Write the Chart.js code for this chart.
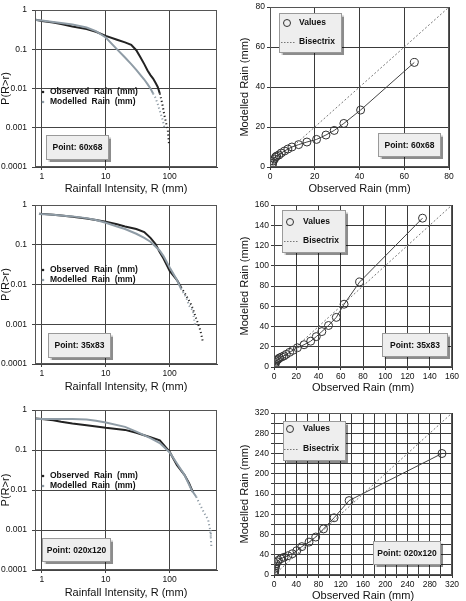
<!DOCTYPE html>
<html>
<head>
<meta charset="utf-8">
<script src="https://cdn.jsdelivr.net/npm/chart.js@4.4.1/dist/chart.umd.min.js"></script>
<style>
  body { margin: 0; background: #fff; width: 466px; height: 601px; position: relative; overflow: hidden; }
  canvas { position: absolute; }
</style>
</head>
<body>
<canvas id="c1"></canvas>
<canvas id="c2"></canvas>
<canvas id="c3"></canvas>
<canvas id="c4"></canvas>
<canvas id="c5"></canvas>
<canvas id="c6"></canvas>
<script>
// ---- exceedance curves, P(R>r) against rainfall intensity R (mm)
// point 60x68
const obsR1 = [0.8, 1, 1.5, 2, 3, 5, 7, 10, 15, 20, 25, 30, 35, 40, 45, 50, 55, 60, 65, 70, 74, 78, 82, 88, 94, 98];
const obsP1 = [0.57, 0.53, 0.48, 0.44, 0.38, 0.33, 0.28, 0.22, 0.175, 0.15, 0.13, 0.095, 0.062, 0.042, 0.029, 0.022, 0.018, 0.014, 0.011, 0.0075, 0.0052, 0.0035, 0.0022, 0.0013, 0.0008, 0.00035];
const modR1 = [0.8, 1, 1.5, 2, 3, 5, 7, 10, 15, 20, 25, 30, 35, 40, 45, 50, 55, 60, 65, 70, 75, 80, 84];
const modP1 = [0.56, 0.54, 0.5, 0.47, 0.43, 0.36, 0.29, 0.2, 0.1, 0.062, 0.042, 0.03, 0.022, 0.017, 0.013, 0.01, 0.0075, 0.0058, 0.004, 0.0027, 0.0019, 0.0013, 0.0009];
// point 35x83
const obsR3 = [0.9, 1.5, 2, 3, 5, 7, 10, 15, 20, 30, 40, 50, 60, 70, 80, 100, 130, 150, 180, 220, 260, 300, 330];
const obsP3 = [0.61, 0.57, 0.55, 0.51, 0.46, 0.42, 0.38, 0.33, 0.29, 0.25, 0.21, 0.15, 0.105, 0.065, 0.045, 0.022, 0.013, 0.0087, 0.0054, 0.003, 0.0014, 0.00072, 0.00037];
const modR3 = [0.9, 1.5, 2, 3, 5, 7, 10, 15, 20, 30, 40, 50, 60, 70, 80, 100, 130, 150, 180, 200, 230, 250];
const modP3 = [0.6, 0.57, 0.55, 0.52, 0.47, 0.42, 0.36, 0.29, 0.25, 0.19, 0.15, 0.12, 0.091, 0.071, 0.052, 0.027, 0.013, 0.0079, 0.0049, 0.003, 0.0022, 0.0009];
// point 020x120
const obsR5 = [0.8, 1, 1.5, 2, 3, 5, 10, 20, 30, 50, 70, 100, 130, 170, 200, 230];
const obsP5 = [0.62, 0.6, 0.56, 0.51, 0.46, 0.42, 0.36, 0.32, 0.27, 0.21, 0.175, 0.09, 0.042, 0.024, 0.015, 0.009];
const modR5 = [0.8, 1, 1.5, 2, 3, 5, 7, 10, 20, 30, 50, 70, 100, 130, 170, 220, 260, 300, 350, 400, 430, 440, 450];
const modP5 = [0.6, 0.6, 0.6, 0.6, 0.6, 0.58, 0.54, 0.49, 0.38, 0.29, 0.2, 0.15, 0.087, 0.046, 0.024, 0.01, 0.0068, 0.0042, 0.0026, 0.0018, 0.001, 0.00068, 0.00035];

// ---- observed vs modelled quantiles (mm)
const qObs2 = [1, 1.2, 1.5, 2, 2.5, 3, 4, 5, 6.5, 8, 9.8, 12.8, 16.5, 20.8, 25, 28.7, 33, 40.5, 64.5];
const qMod2 = [1, 2, 3, 4, 5, 5.5, 6, 7, 8, 9, 10, 11.2, 12.5, 13.8, 16, 18.3, 21.8, 28.5, 52.3];
const qObs4 = [0.8, 1, 1.5, 2, 3, 4, 5, 7, 9, 11, 14, 17, 21, 27, 33, 38, 43, 49, 56, 63, 77, 133.5];
const qMod4 = [1, 3, 4.5, 6, 7, 8, 9, 10, 11, 12.5, 14.5, 16.5, 19, 22, 25.5, 30, 35, 41, 49, 62, 84, 147];
const qObs6 = [0.5, 1, 1.5, 2, 3, 4, 6, 8, 12, 18, 25, 33, 41, 50, 63, 75, 89, 108, 135, 302];
const qMod6 = [1, 4, 8, 13, 18, 22, 26, 29, 32, 35, 38, 42, 48, 56, 65, 75, 91, 113, 147, 240];

const probTicks = [0.0001, 0.001, 0.01, 0.1, 1];
const rainTicks = [1, 10, 100];
const pointNames = ['60x68', '35x83', '020x120'];

const FONT = '"Liberation Sans", Arial, Helvetica, sans-serif';
Chart.defaults.font.family = FONT;
Chart.defaults.color = '#111';

function drawBox(ctx, b) {
  ctx.save();
  ctx.shadowColor = 'rgba(0,0,0,0.45)';
  ctx.shadowOffsetX = 1.5;
  ctx.shadowOffsetY = 1.5;
  ctx.shadowBlur = 1;
  ctx.fillStyle = '#eeeeee';
  ctx.fillRect(b[0], b[1], b[2], b[3]);
  ctx.restore();
  ctx.strokeStyle = '#9a9a9a';
  ctx.lineWidth = 1;
  ctx.strokeRect(b[0] + 0.5, b[1] + 0.5, b[2] - 1, b[3] - 1);
}

// frame, legend and the "Point" label inside each plot
const notes = {
  id: 'notes',
  afterDatasetsDraw(chart, args, o) {
    const ctx = chart.ctx, a = chart.chartArea, ds = chart.data.datasets;
    ctx.save();
    ctx.strokeStyle = '#555';
    ctx.lineWidth = 1;
    ctx.strokeRect(Math.round(a.left) + 0.5, Math.round(a.top) + 0.5,
                   Math.round(a.right - a.left) - 1, Math.round(a.bottom - a.top) - 1);
    ctx.font = 'bold 8.5px ' + FONT;
    ctx.textBaseline = 'middle';
    if (o.legendBox) drawBox(ctx, o.legendBox);
    o.rows.forEach((y, i) => {
      const d = ds[i];
      if (o.kind === 'dots') {
        ctx.fillStyle = d.borderColor;
        ctx.beginPath(); ctx.arc(o.markX, y, 1.3, 0, Math.PI * 2); ctx.fill();
      } else if (i === 0) {
        ctx.strokeStyle = '#333'; ctx.lineWidth = 1;
        ctx.beginPath(); ctx.arc(o.markX, y, 3.5, 0, Math.PI * 2); ctx.stroke();
      } else {
        ctx.strokeStyle = '#777'; ctx.lineWidth = 1; ctx.setLineDash([1.5, 1.5]);
        ctx.beginPath(); ctx.moveTo(o.markX - 6, y + 0.5); ctx.lineTo(o.markX + 8, y + 0.5); ctx.stroke();
        ctx.setLineDash([]);
      }
      ctx.fillStyle = '#111';
      ctx.textAlign = 'left';
      ctx.fillText(d.label, o.textX, y);
    });
    const b = o.pointBox;
    drawBox(ctx, b);
    ctx.fillStyle = '#111';
    ctx.textAlign = 'center';
    ctx.fillText('Point: ' + o.point, b[0] + b[2] / 2, b[1] + b[3] / 2 + 0.5);
    ctx.restore();
  }
};

function place(id, box, area) {
  const cv = document.getElementById(id);
  cv.width = box[2]; cv.height = box[3];
  cv.style.left = box[0] + 'px'; cv.style.top = box[1] + 'px';
  return {
    ctx: cv,
    padding: { left: 0, bottom: 0, top: area[1] - box[1], right: box[0] + box[2] - area[2] },
    yw: area[0] - box[0],
    xh: box[1] + box[3] - area[3]
  };
}

function pts(xs, ys) { return xs.map((x, i) => ({ x: x, y: ys[i] })); }

const tail = c => c.p1.parsed.y < 0.006 ? [1.2, 2.6] : undefined;

function ccdfChart(id, box, area, oR, oP, mR, mP, note) {
  const p = place(id, box, area);
  return new Chart(p.ctx, {
    type: 'scatter',
    data: {
      datasets: [
        { label: 'Observed  Rain  (mm)', data: pts(oR, oP), showLine: true, borderColor: '#222',
          borderWidth: 2, pointRadius: 0, order: 1, segment: { borderDash: tail } },
        { label: 'Modelled  Rain  (mm)', data: pts(mR, mP), showLine: true, borderColor: '#8f9ca6',
          borderWidth: 2, pointRadius: 0, order: 0, segment: { borderDash: tail } }
      ]
    },
    options: {
      responsive: false, animation: false, devicePixelRatio: 1, events: [],
      layout: { padding: p.padding },
      plugins: { legend: { display: false }, tooltip: { enabled: false }, notes: note },
      scales: {
        x: {
          type: 'logarithmic', min: 0.78, max: 550,
          afterBuildTicks: s => { s.ticks = rainTicks.map(v => ({ value: v })); },
          afterFit: s => { s.height = p.xh; },
          ticks: { callback: v => String(v), font: { size: 8.5 }, padding: 2, maxRotation: 0, autoSkip: false },
          grid: { color: '#444', tickColor: '#444', tickLength: 3 },
          border: { color: '#444' },
          title: { display: true, text: 'Rainfall Intensity, R (mm)', font: { size: 11, lineHeight: 1 }, padding: 0 }
        },
        y: {
          type: 'logarithmic', min: 0.0001, max: 1,
          afterBuildTicks: s => { s.ticks = probTicks.map(v => ({ value: v })); },
          afterFit: s => { s.width = p.yw; },
          ticks: { callback: v => String(v), font: { size: 8.5 }, padding: 5 },
          grid: { color: '#444', tickColor: '#444', tickLength: 3 },
          border: { color: '#444' },
          title: { display: true, text: 'P(R>r)', font: { size: 11, lineHeight: 1 }, padding: 0 }
        }
      }
    },
    plugins: [notes]
  });
}

function qqChart(id, box, area, qo, qm, max, step, labelStep, note) {
  const p = place(id, box, area);
  const lab = v => (v % labelStep === 0 ? String(v) : '');
  const axis = (title, fit) => ({
    type: 'linear', min: 0, max: max, afterFit: fit,
    ticks: { stepSize: step, callback: lab, font: { size: 8.5 }, padding: 2, maxRotation: 0, autoSkip: false },
    grid: { color: '#3a3a3a', tickColor: '#3a3a3a', tickLength: 3 },
    border: { color: '#3a3a3a' },
    title: { display: true, text: title, font: { size: 11, lineHeight: 1 }, padding: { top: 6.5, bottom: 0 } }
  });
  return new Chart(p.ctx, {
    type: 'scatter',
    data: {
      datasets: [
        { label: 'Values', data: pts(qo, qm), showLine: true, borderColor: '#444', borderWidth: 1,
          pointRadius: 4, pointBorderColor: '#333', pointBackgroundColor: 'rgba(0,0,0,0)', pointBorderWidth: 1 },
        { label: 'Bisectrix', data: pts([0, max], [0, max]), showLine: true, borderColor: '#777',
          borderWidth: 1, borderDash: [2, 2], pointRadius: 0 }
      ]
    },
    options: {
      responsive: false, animation: false, devicePixelRatio: 1, events: [],
      layout: { padding: p.padding },
      plugins: { legend: { display: false }, tooltip: { enabled: false }, notes: note },
      scales: {
        x: Object.assign(axis('Observed Rain (mm)', s => { s.height = p.xh; }), { position: 'bottom' }),
        y: Object.assign(axis('Modelled Rain (mm)', s => { s.width = p.yw; }), { position: 'left' })
      }
    },
    plugins: [notes]
  });
}

ccdfChart('c1', [0, 0, 233, 194], [35, 6, 217, 167], obsR1, obsP1, modR1, modP1,
  { kind: 'dots', rows: [92, 102], markX: 43, textX: 50, pointBox: [46, 135, 63, 25], point: pointNames[0] });
ccdfChart('c3', [0, 195, 233, 197], [35, 204, 217, 364], obsR3, obsP3, modR3, modP3,
  { kind: 'dots', rows: [75, 85], markX: 43, textX: 50, pointBox: [48, 138, 63, 25], point: pointNames[1] });
ccdfChart('c5', [0, 400, 233, 198], [35, 410, 217, 570], obsR5, obsP5, modR5, modP5,
  { kind: 'dots', rows: [76, 86], markX: 43, textX: 50, pointBox: [42, 138, 69, 24], point: pointNames[2] });

qqChart('c2', [233, 0, 233, 194], [270, 6, 449, 167], qObs2, qMod2, 80, 20, 20,
  { kind: 'lines', legendBox: [46, 13, 63, 40], rows: [23, 42], markX: 54, textX: 66, pointBox: [145, 133, 63, 24], point: pointNames[0] });
qqChart('c4', [233, 195, 233, 198], [274, 205, 452, 367], qObs4, qMod4, 160, 20, 20,
  { kind: 'lines', legendBox: [49, 15, 64, 43], rows: [27, 46], markX: 57, textX: 70, pointBox: [149, 138, 66, 24], point: pointNames[1] });
qqChart('c6', [233, 400, 233, 201], [274, 413, 452, 575], qObs6, qMod6, 320, 20, 40,
  { kind: 'lines', legendBox: [50, 21, 63, 40], rows: [29, 49], markX: 57, textX: 70, pointBox: [140, 141, 68, 24], point: pointNames[2] });
</script>
</body>
</html>
